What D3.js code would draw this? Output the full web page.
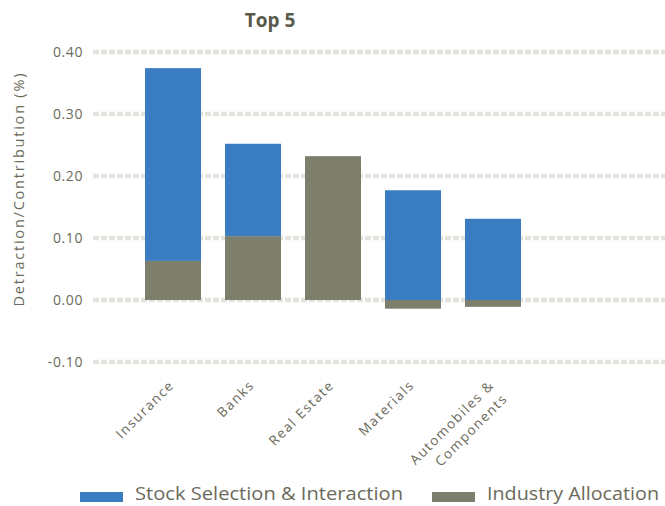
<!DOCTYPE html>
<html><head><meta charset="utf-8">
<script src="https://cdn.jsdelivr.net/npm/d3@7"></script>
<style>body{margin:0;background:#fff}</style>
</head><body>
<script>
const categories = ["Insurance", "Banks", "Real Estate", "Materials", "Automobiles & Components"];
const categoryLines = [["Insurance"], ["Banks"], ["Real Estate"], ["Materials"], ["Automobiles &", "Components"]];
const seriesNames = ["Industry Allocation", "Stock Selection & Interaction"];
const industryAllocation = [0.063, 0.103, 0.232, -0.014, -0.011];
const stockSelection = [0.311, 0.149, 0.0, 0.177, 0.131];
const yTicks = [-0.10, 0.00, 0.10, 0.20, 0.30, 0.40];
const colors = {"Stock Selection & Interaction": "#3A7DC1", "Industry Allocation": "#7E7E6C"};

const W = 665, H = 506;
const svg = d3.select("body").append("svg").attr("width", W).attr("height", H);
const textColor = "#6B6B5B";
const font = "'Open Sans', sans-serif";

const y = d3.scaleLinear().domain([-0.1, 0.4]).range([362, 52]);
const x = d3.scaleBand().domain(categories).range([133, 533]).paddingInner(0.3).paddingOuter(0.15);

// grid
svg.append("g").selectAll("line").data(yTicks).join("line")
  .attr("x1", 93).attr("x2", W)
  .attr("y1", d => y(d)).attr("y2", d => y(d))
  .attr("stroke", "#E4E4DE").attr("stroke-width", 4.5)
  .attr("stroke-dasharray", "6,2");

// y axis
const fmt = d => d3.format(".2f")(d).replace("\u2212", "-");
const yAxis = d3.axisLeft(y).tickValues(yTicks).tickFormat(fmt).tickSize(0).tickPadding(0);
const ya = svg.append("g").attr("transform", "translate(83,0)").call(yAxis);
ya.select(".domain").remove();
ya.selectAll("text").attr("font-family", font).attr("font-size", 14).attr("fill", textColor)
  .attr("letter-spacing", 0.6).attr("dy", "0.35em");

// stacking (diverging)
const rows = categories.map((c, i) => ({cat: c, "Industry Allocation": industryAllocation[i], "Stock Selection & Interaction": stockSelection[i]}));
const stack = d3.stack().keys(seriesNames).offset(d3.stackOffsetDiverging);
const layers = stack(rows);

svg.append("g").selectAll("g").data(layers).join("g")
  .attr("fill", d => colors[d.key])
  .selectAll("rect").data(d => d).join("rect")
  .attr("x", d => x(d.data.cat))
  .attr("width", x.bandwidth())
  .attr("y", d => y(Math.max(d[0], d[1])))
  .attr("height", d => Math.abs(y(d[0]) - y(d[1])));

// x labels
const xl = svg.append("g");
categories.forEach((c, i) => {
  const cx = x(c) + x.bandwidth() / 2;
  const lines = categoryLines[i];
  const t = xl.append("text")
    .attr("transform", `translate(${cx + 2},${386}) rotate(-45)`)
    .attr("text-anchor", "end")
    .attr("font-family", font).attr("font-size", 13.5).attr("fill", textColor)
    .attr("letter-spacing", 1.5);
  lines.forEach((l, j) => {
    t.append("tspan").attr("x", 0).attr("dy", j === 0 ? 0 : 19).text(l);
  });
});

// title
svg.append("text").attr("x", 270).attr("y", 27).attr("text-anchor", "middle")
  .attr("font-family", font).attr("font-weight", "bold").attr("font-size", 19)
  .attr("fill", "#5A5A4A").text("Top 5");

// y title
svg.append("text").attr("transform", "translate(24,190) rotate(-90)")
  .attr("text-anchor", "middle").attr("font-family", font).attr("font-size", 14.5)
  .attr("textLength", 233).attr("lengthAdjust", "spacing")
  .attr("fill", textColor).text("Detraction/Contribution (%)");

// legend
const legendItems = [
  {name: "Stock Selection & Interaction", x: 80, len: 268},
  {name: "Industry Allocation", x: 432, len: 172}
];
const lg = svg.append("g");
legendItems.forEach(it => {
  lg.append("rect").attr("x", it.x).attr("y", 492).attr("width", 43).attr("height", 10).attr("fill", colors[it.name]);
  lg.append("text").attr("x", it.x + 55).attr("y", 500).attr("font-family", font)
    .attr("font-size", 18).attr("fill", textColor)
    .attr("textLength", it.len).attr("lengthAdjust", "spacingAndGlyphs").text(it.name);
});
</script>
</body></html>
